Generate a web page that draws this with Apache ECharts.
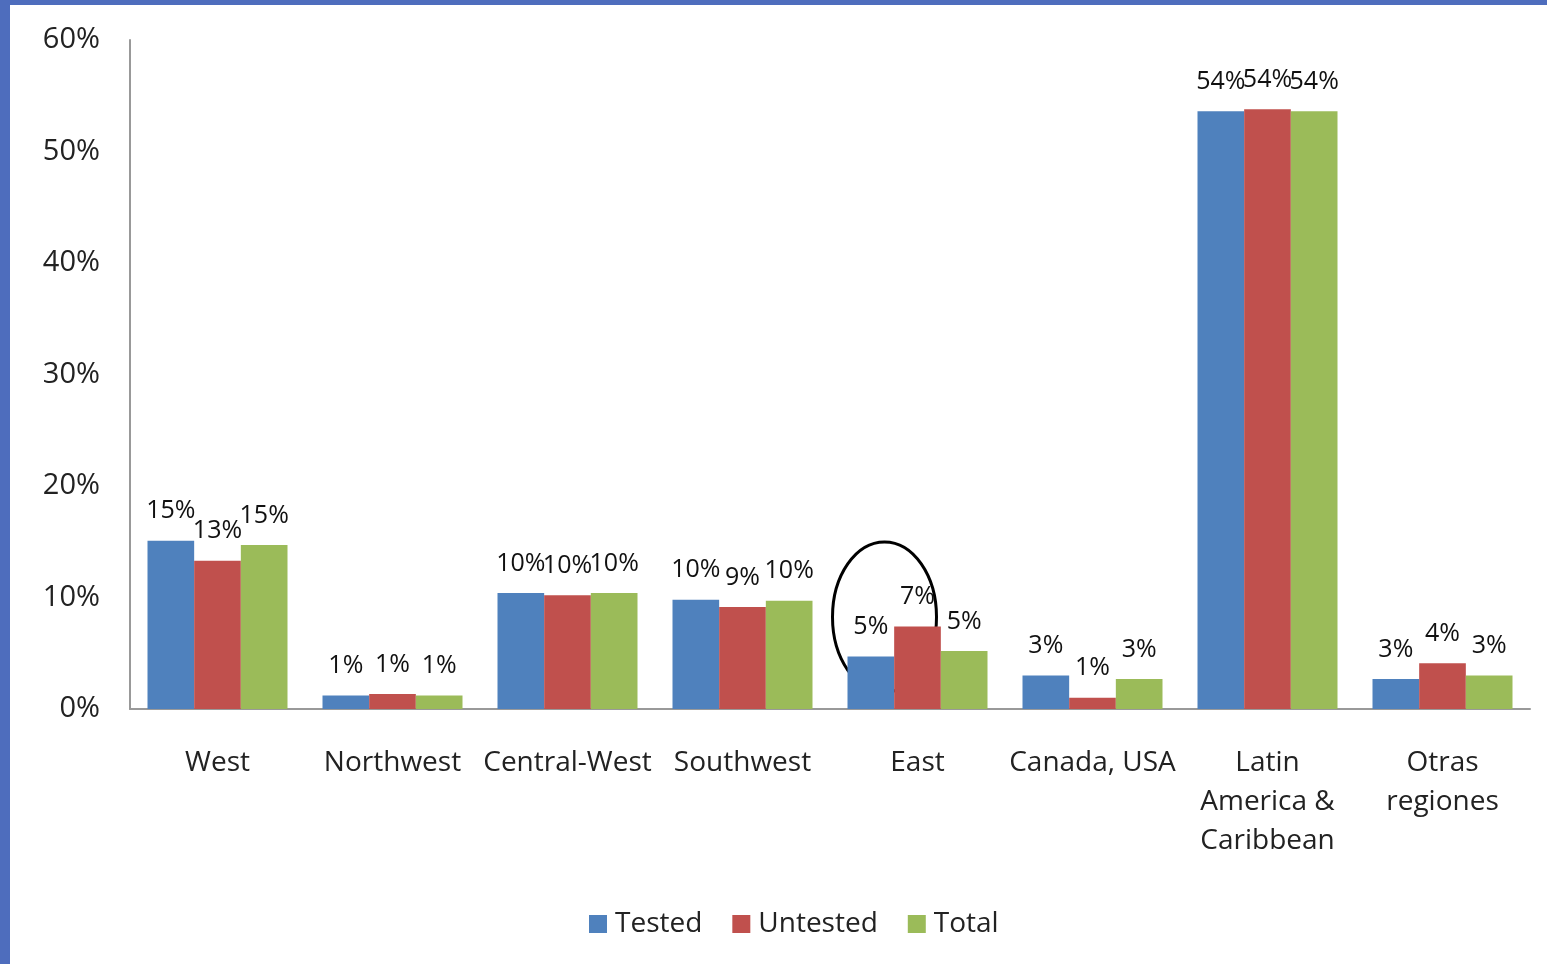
<!DOCTYPE html>
<html>
<head>
<meta charset="utf-8">
<script src="https://cdn.jsdelivr.net/npm/echarts@6/dist/echarts.min.js"></script>
<style>
html,body{margin:0;padding:0;background:#fff;}
#c{width:1547px;height:964px;}
</style>
</head>
<body>
<div id="c"></div>
<script>
const categories = ['West', 'Northwest', 'Central-West', 'Southwest', 'East', 'Canada, USA', 'Latin\nAmerica &\nCaribbean', 'Otras\nregiones'];
const seriesNames = ['Tested', 'Untested', 'Total'];
const tested = [15.1, 1.2, 10.4, 9.8, 4.7, 3.0, 53.6, 2.7];
const untested = [13.3, 1.35, 10.2, 9.15, 7.4, 1.0, 53.8, 4.1];
const total = [14.7, 1.2, 10.4, 9.7, 5.2, 2.7, 53.6, 3.0];
const yTicks = [0, 10, 20, 30, 40, 50, 60];
const colors = ['#4f81bd', '#c0504d', '#9bbb59'];
const FONT = 'Open Sans';

const chart = echarts.init(document.getElementById('c'));
const mk = (name, data, color) => ({
  name, type: 'bar', data, barGap: '0%', barCategoryGap: '20%',
  itemStyle: { color },
  label: {
    show: true, position: 'top', distance: 17, color: '#111',
    fontFamily: FONT, fontSize: 25,
    formatter: p => Math.round(p.value) + '%'
  }
});
chart.setOption({
  animation: false,
  textStyle: { fontFamily: FONT },
  grid: { left: 130, right: 17, top: 40, bottom: 255 },
  legend: {
    left: 584, top: 905, itemWidth: 18, itemHeight: 18, itemGap: 30,
    icon: 'rect',
    textStyle: { fontFamily: FONT, fontSize: 28, color: '#222', padding: [0, 0, 0, 3] },
    data: seriesNames
  },
  xAxis: {
    type: 'category', data: categories,
    axisLine: { lineStyle: { color: '#999', width: 2 } },
    axisTick: { show: false },
    axisLabel: { interval: 0, margin: 35, fontFamily: FONT, fontSize: 28, color: '#222', lineHeight: 39 }
  },
  yAxis: {
    type: 'value', min: yTicks[0], max: yTicks[yTicks.length - 1], interval: 10,
    axisLine: { show: true, lineStyle: { color: '#999', width: 2 } },
    axisTick: { show: false },
    splitLine: { show: false },
    axisLabel: { margin: 30, fontFamily: FONT, fontSize: 29, color: '#222', formatter: '{value}%' }
  },
  series: [mk(seriesNames[0], tested, colors[0]), mk(seriesNames[1], untested, colors[1]), mk(seriesNames[2], total, colors[2])]
});

// annotation: ellipse around East tested/untested, frame borders
const pEast = chart.convertToPixel({ xAxisIndex: 0, yAxisIndex: 0 }, ['East', 8.25]);
chart.setOption({
  graphic: [
    { type: 'rect', shape: { x: 0, y: 0, width: 10, height: 964 }, style: { fill: '#4e6dbd' } },
    { type: 'rect', shape: { x: 0, y: 0, width: 1547, height: 5 }, style: { fill: '#4e6dbd' } },
    { type: 'ellipse', shape: { cx: pEast[0] - 33, cy: pEast[1], rx: 52, ry: 75 },
      style: { fill: 'none', stroke: '#000', lineWidth: 3 } }
  ]
});
</script>
</body>
</html>
